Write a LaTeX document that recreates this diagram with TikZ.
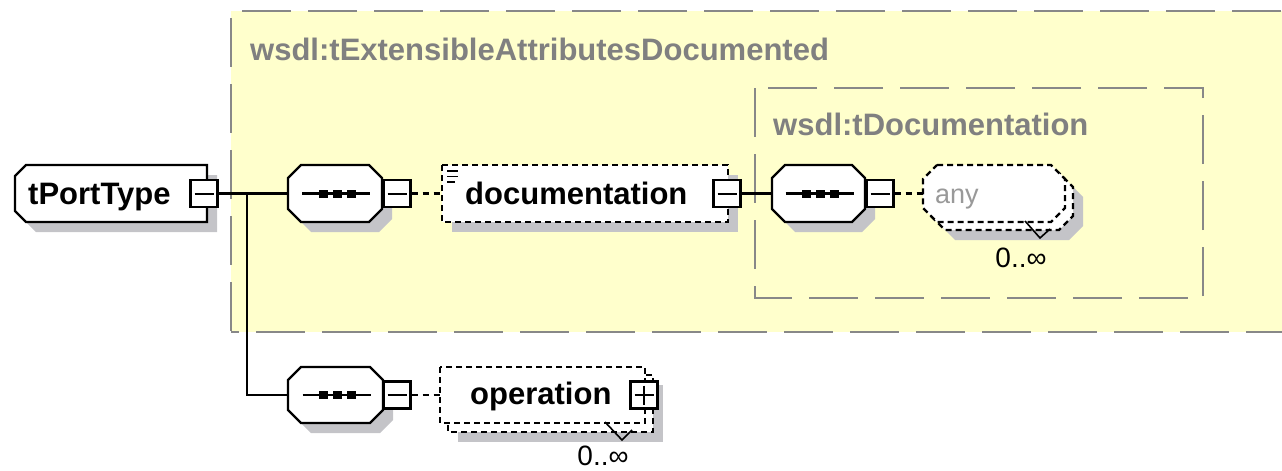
\documentclass[tikz,border=0pt]{standalone}
\usepackage{fontspec}
\setmainfont{Liberation Sans}
\definecolor{ybg}{RGB}{255,255,204}
\definecolor{bgray}{RGB}{136,136,136}
\definecolor{tgray}{RGB}{128,128,128}
\definecolor{sgray}{RGB}{196,196,200}
\definecolor{agray}{RGB}{153,153,153}
\newcommand\chamall[6][]{\path[#1] ({#2+#6},#3) -- ({#4-#6},#3) -- (#4,{#3+#6}) -- (#4,{#5-#6}) -- ({#4-#6},#5) -- ({#2+#6},#5) -- (#2,{#5-#6}) -- (#2,{#3+#6}) -- cycle;}
\newcommand\chamleft[6][]{\path[#1] ({#2+#6},#3) -- (#4,#3) -- (#4,#5) -- ({#2+#6},#5) -- (#2,{#5-#6}) -- (#2,{#3+#6}) -- cycle;}
\newcommand\seqsym[2]{\draw[line width=2.3pt] ({#1-33},#2) -- ({#1+35},#2);
  \foreach \d in {-12,2,16} {\fill ({#1+\d-4.5},{#2-4}) rectangle ({#1+\d+4.5},{#2+4});}}
\tikzset{
  btext/.style={font=\bfseries\fontsize{31}{37}\selectfont, inner sep=0pt},
  ttext/.style={font=\bfseries\fontsize{31}{37}\selectfont, text=tgray, inner sep=0pt},
  ntext/.style={font=\fontsize{28}{33}\selectfont, inner sep=0pt},
  anytext/.style={font=\fontsize{27}{32}\selectfont, text=agray, inner sep=0pt},
  solidshape/.style={draw=black, line width=2.3pt, fill=white},
  optshape/.style={draw=black, line width=2.3pt, fill=white, dash pattern=on 6pt off 4pt},
  shade/.style={fill=sgray},
  anchorbox/.style={rectangle, draw=none, fill=none, inner sep=0pt},
  boxbase/.style={rectangle, draw=black, line width=2.3pt, fill=white, minimum size=27pt, inner sep=0pt},
  minusbox/.style={boxbase, path picture={\draw[line width=2pt] ([xshift=4pt]path picture bounding box.west) -- ([xshift=-4pt]path picture bounding box.east);}},
  plusbox/.style={boxbase, path picture={\draw[line width=2pt] ([xshift=4pt]path picture bounding box.west) -- ([xshift=-4pt]path picture bounding box.east) ([yshift=-4pt]path picture bounding box.north) -- ([yshift=4pt]path picture bounding box.south);}},
  conn/.style={line width=2.3pt},
  optconn/.style={line width=2.3pt, dash pattern=on 6pt off 5pt},
  grpframe/.style={draw=bgray, line width=2.2pt, dash pattern=on 49pt off 17pt},
  multmark/.style={line width=1.6pt},
}
\begin{document}
\begin{tikzpicture}[x=1pt,y=-1pt]
\clip (0,0) rectangle (1282,471);
% outer group
\fill[ybg] (231,11) rectangle (1290,332);
\draw[grpframe, dash phase=55pt] (231,11) -- (1290,11);
\draw[grpframe, dash phase=59pt] (231,11) -- (231,332);
\draw[grpframe, dash phase=41pt] (231,332) -- (1290,332);
\node[ttext, anchor=base west] (outert) at (250,60) {wsdl:tExtensibleAttributesDocumented};
% inner group
\draw[grpframe] (755,88) rectangle (1203,298);
\node[ttext, anchor=base west] (innert) at (773,135) {wsdl:tDocumentation};
% tPortType
\chamleft[shade]{25}{175}{217}{232}{11}
\chamleft[solidshape]{15}{165}{207}{222}{11}
\node[anchorbox, minimum width=192pt, minimum height=57pt] (tpt) at (111,193.5) {};
\node[btext, anchor=base west] (tptl) at (28,204) {tPortType};
\node[minusbox] (tptb) at (204,193.5) {};
% sequence 1
\chamall[shade]{298}{175}{392}{232}{13}
\chamall[solidshape]{288}{165}{382}{222}{13}
\node[anchorbox, minimum width=94pt, minimum height=57pt] (seq1) at (335,193.5) {};
\seqsym{335}{193.5}
\node[minusbox] (seq1b) at (397,193.5) {};
% documentation
\fill[sgray] (452,175) rectangle (738,232);
\draw[optshape] (442,165) rectangle (728,222);
\node[anchorbox, minimum width=286pt, minimum height=57pt] (doc) at (585,193.5) {};
\draw[line width=1.5pt] (447,171) -- (458,171) (447,176.5) -- (458,176.5) (447,182) -- (455,182);
\node[btext, anchor=base west] (docl) at (465,204) {documentation};
\node[minusbox] (docb) at (727,193.5) {};
% sequence 2
\chamall[shade]{782}{175}{875}{232}{13}
\chamall[solidshape]{772}{165}{865}{222}{13}
\node[anchorbox, minimum width=93pt, minimum height=57pt] (seq2) at (818.5,193.5) {};
\seqsym{818.5}{193.5}
\node[minusbox] (seq2b) at (880,193.5) {};
% any
\chamall[shade]{941}{183}{1083}{240}{14}
\chamall[optshape]{931}{173}{1073}{230}{14}
\chamall[optshape]{923}{165}{1065}{222}{14}
\node[anchorbox, minimum width=142pt, minimum height=57pt] (any) at (994,193.5) {};
\node[anytext, anchor=base west] (anyl) at (935,203) {any};
\draw[multmark] (1025,221) -- (1040,238) -- (1050,229);
\node[ntext, anchor=base] (anym) at (1021,267) {0..∞};
% sequence 3
\chamall[shade]{298}{377}{393}{433}{13}
\chamall[solidshape]{288}{367}{383}{423}{13}
\node[anchorbox, minimum width=95pt, minimum height=56pt] (seq3) at (335.5,395) {};
\seqsym{335.5}{395}
\node[minusbox] (seq3b) at (397,395) {};
% operation
\fill[sgray] (458,385) rectangle (663,442);
\draw[optshape] (448,375) rectangle (653,432);
\draw[optshape] (440,367) rectangle (645,423);
\node[anchorbox, minimum width=205pt, minimum height=56pt] (op) at (542.5,395) {};
\node[btext, anchor=base west] (opl) at (470,404) {operation};
\node[plusbox] (opb) at (644,395) {};
\draw[multmark] (605,422) -- (622,440) -- (632,430);
\node[ntext, anchor=base] (opm) at (603,465) {0..∞};
% connectors
\draw[conn] (tptb.east) -- (seq1.west);
\coordinate (j) at (247,193.5);
\draw[conn] (j) |- (seq3.west);
\draw[optconn] (seq1b.east) -- (doc.west);
\draw[conn] (docb.east) -- (seq2.west);
\draw[optconn] (seq2b.east) -- (any.west);
\draw[optconn] (seq3b.east) -- (op.west);
\end{tikzpicture}
\end{document}
